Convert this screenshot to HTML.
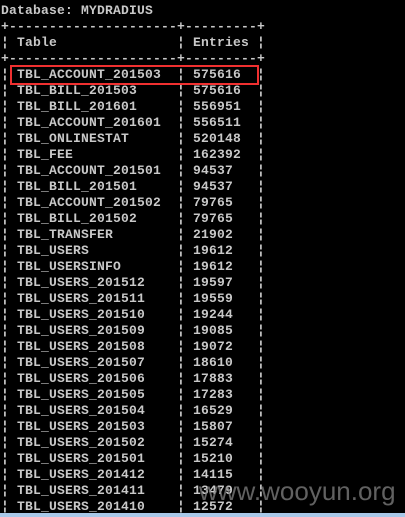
<!DOCTYPE html>
<html><head><meta charset="utf-8"><style>
html,body{margin:0;padding:0;background:#000;width:405px;height:517px;overflow:hidden;position:relative}
pre{position:absolute;left:1px;top:3px;margin:0;font-family:"Liberation Mono",monospace;font-size:13px;letter-spacing:0.2px;line-height:16px;color:#c8c8c8;font-weight:bold}
#box{position:absolute;left:10px;top:65px;width:245px;height:16px;border:2px solid #f03030}
#wm{position:absolute;left:199px;top:476px;font-family:"Liberation Sans",sans-serif;font-size:26px;color:rgba(130,130,130,0.75)}
#bottom{position:absolute;left:0;top:513px;width:405px;height:4px;background:#a8c8e8}
</style></head><body>
<pre id="term"></pre>
<div id="box"></div>
<div id="wm">www.wooyun.org</div>
<div id="bottom"></div>
<script>
const names=["TBL_ACCOUNT_201503","TBL_BILL_201503","TBL_BILL_201601","TBL_ACCOUNT_201601","TBL_ONLINESTAT","TBL_FEE","TBL_ACCOUNT_201501","TBL_BILL_201501","TBL_ACCOUNT_201502","TBL_BILL_201502","TBL_TRANSFER","TBL_USERS","TBL_USERSINFO","TBL_USERS_201512","TBL_USERS_201511","TBL_USERS_201510","TBL_USERS_201509","TBL_USERS_201508","TBL_USERS_201507","TBL_USERS_201506","TBL_USERS_201505","TBL_USERS_201504","TBL_USERS_201503","TBL_USERS_201502","TBL_USERS_201501","TBL_USERS_201412","TBL_USERS_201411","TBL_USERS_201410"];
const entries=["575616","575616","556951","556511","520148","162392","94537","94537","79765","79765","21902","19612","19612","19597","19559","19244","19085","19072","18610","17883","17283","16529","15807","15274","15210","14115","13479","12572"];
const border="+"+"-".repeat(21)+"+"+"-".repeat(9)+"+";
const row=(a,b)=>"\u00a6 "+a.padEnd(19)+" \u00a6 "+b.padEnd(7)+" \u00a6";
let lines=["Database: MYDRADIUS",border,row("Table","Entries"),border];
names.forEach((n,i)=>lines.push(row(n,entries[i])));
document.getElementById('term').textContent=lines.join("\n");
</script>
</body></html>
